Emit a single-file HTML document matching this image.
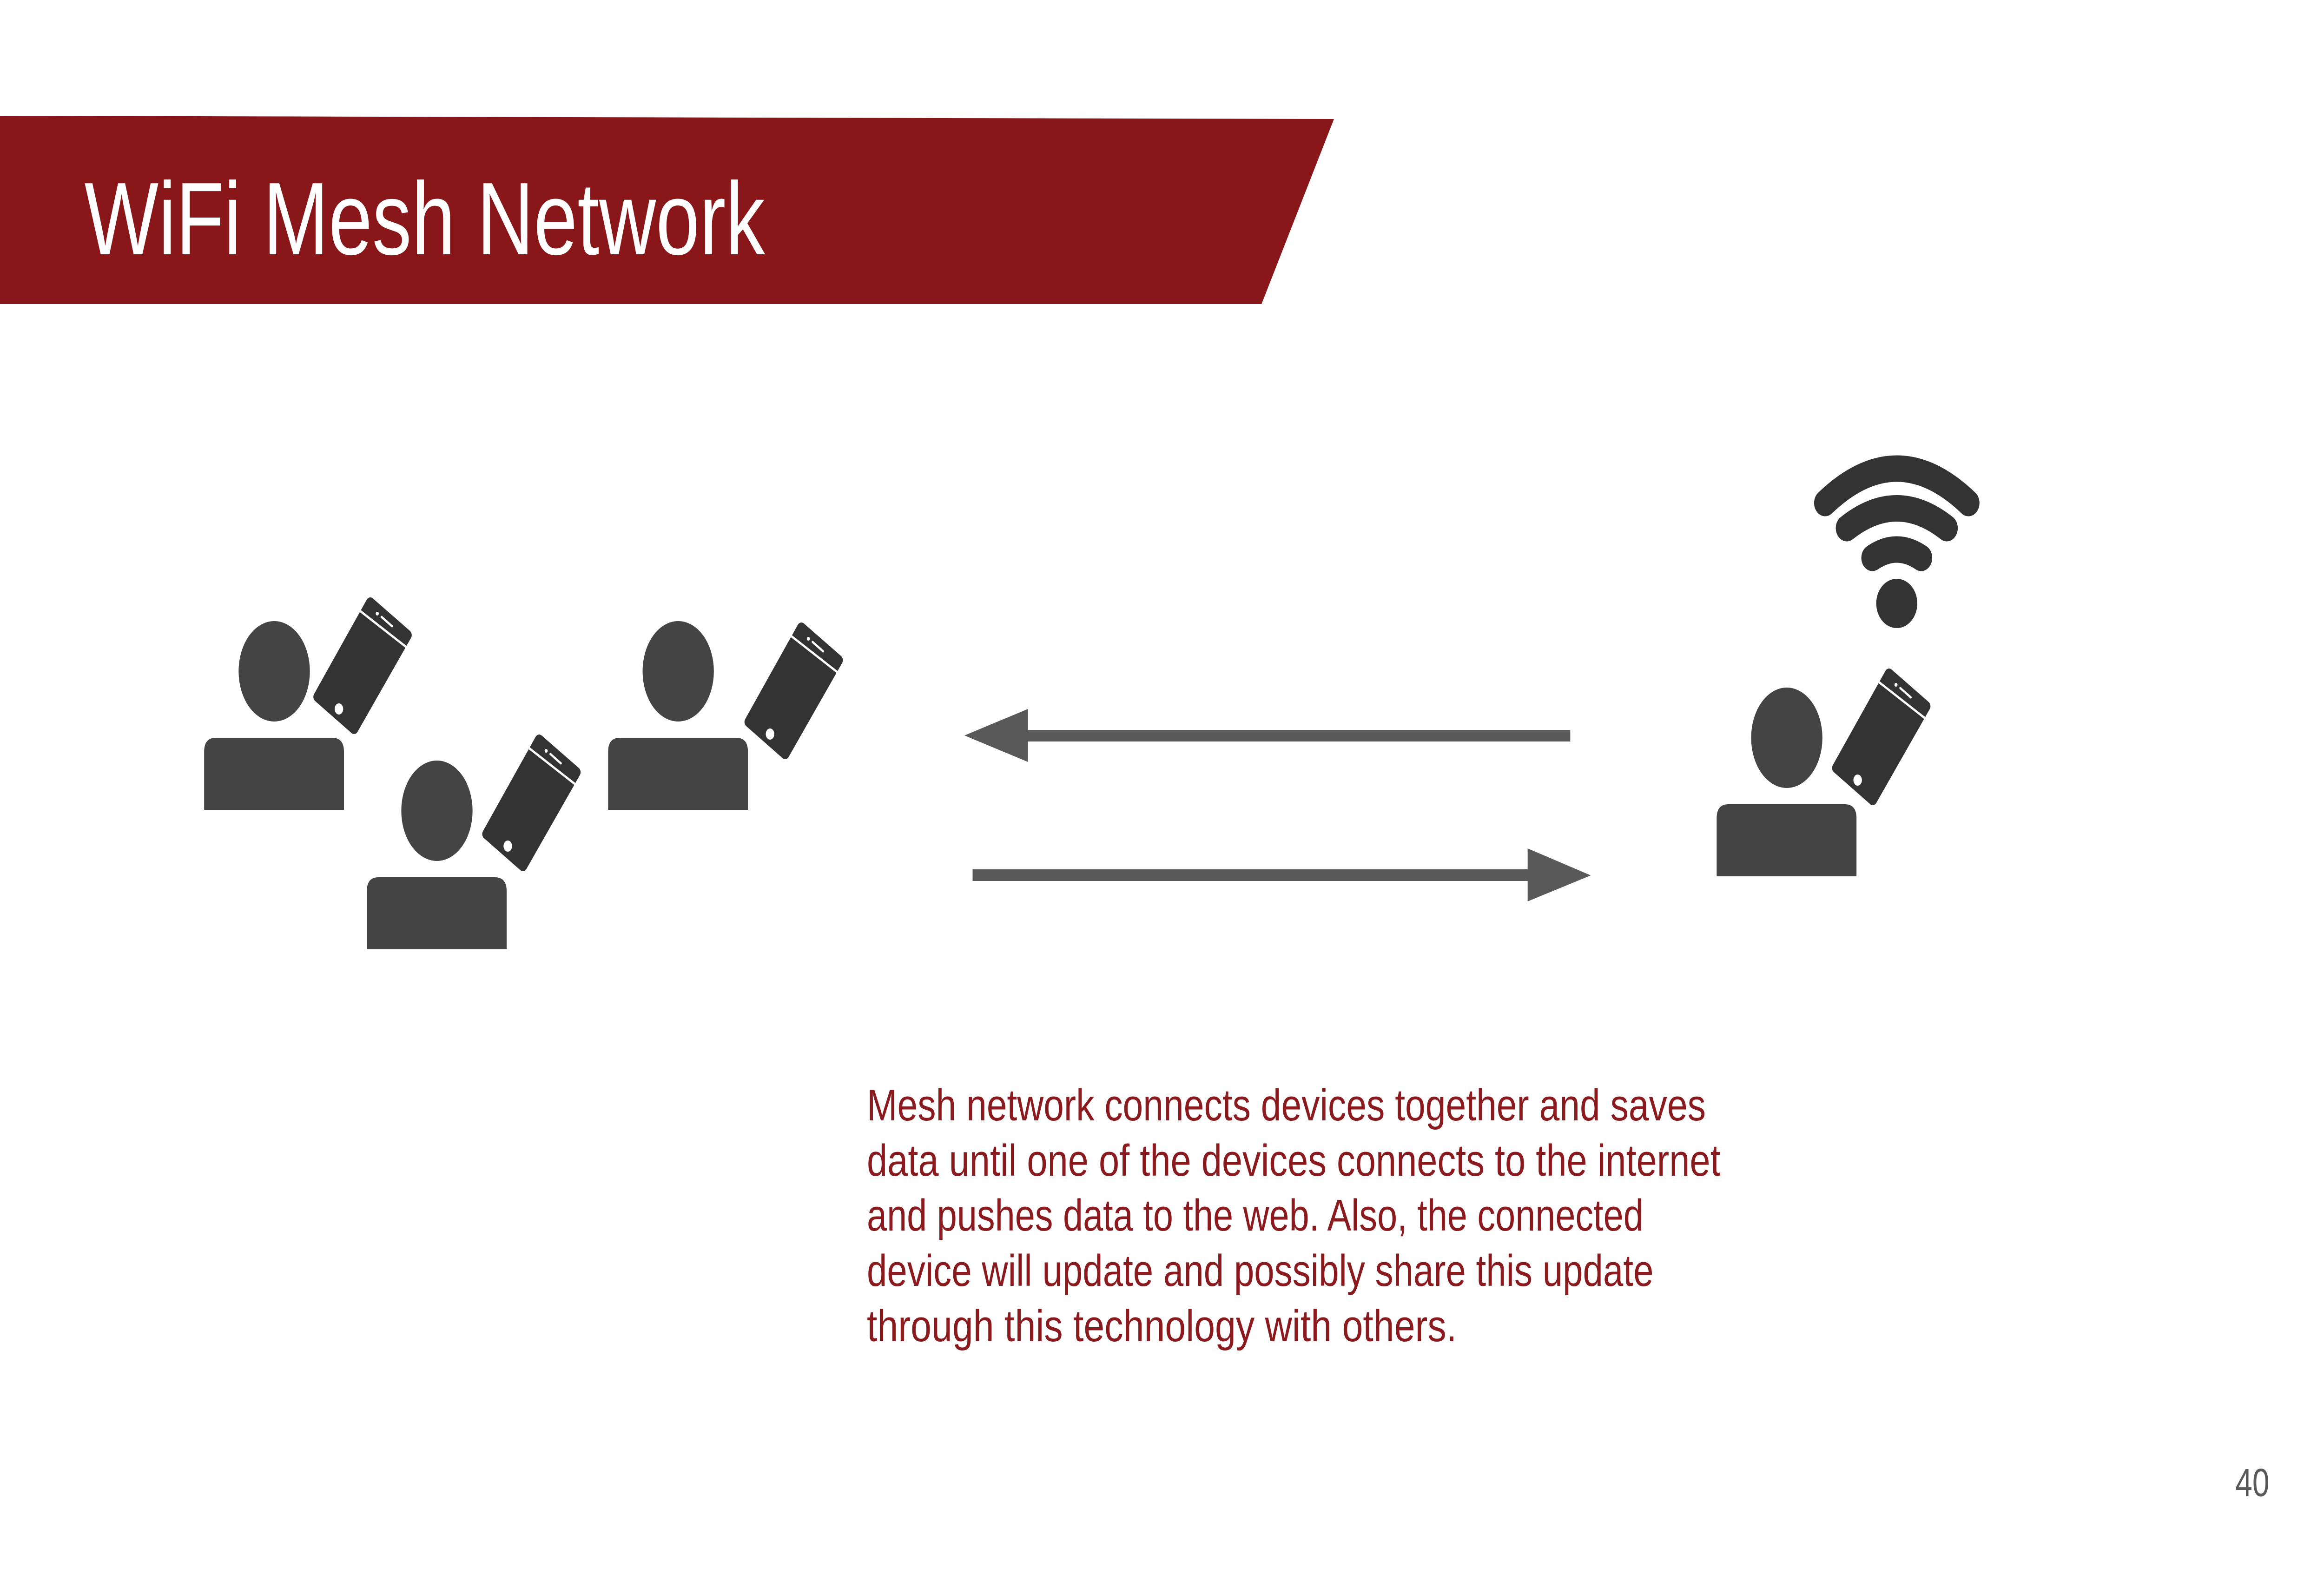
<!DOCTYPE html>
<html><head><meta charset="utf-8"><style>
html,body{margin:0;padding:0;background:#fff;width:100%;height:100%;overflow:hidden;}
svg{display:block;position:absolute;left:0;top:0;width:100vw;height:100vh;}
</style></head><body>
<svg viewBox="0 0 6000 3375" preserveAspectRatio="none" xmlns="http://www.w3.org/2000/svg">
<defs>
<g id="person">
  <ellipse cx="708" cy="1444" rx="92" ry="108" fill="#444444"/>
  <path d="M557 1587 H858 Q888 1587 888 1617 V1742 H527 V1617 Q527 1587 557 1587 Z" fill="#444444"/>
</g>
<g id="phone">
  <polygon points="956,1296 1052,1366 914,1568 820,1499" fill="#333333" stroke="#333333" stroke-width="22" stroke-linejoin="round"/>
  <line x1="928" y1="1313" x2="1049" y2="1392" stroke="#ffffff" stroke-width="5"/>
  <line x1="985" y1="1327" x2="1012" y2="1347" stroke="#ffffff" stroke-width="5" stroke-linecap="round"/>
  <circle cx="974" cy="1320" r="4" fill="#ffffff"/>
  <ellipse cx="875" cy="1525" rx="11" ry="12" fill="#ffffff"/>
</g>
</defs>

<polygon points="0,249 3444,256 3257,654 0,654" fill="#89171a"/>
<text x="218" y="547" font-family="Liberation Sans, sans-serif" font-size="222" fill="#ffffff" textLength="1757" lengthAdjust="spacingAndGlyphs">WiFi Mesh Network</text>

<use href="#person"/><use href="#phone"/>
<g transform="translate(420,300)"><use href="#person"/></g>
<g transform="translate(436,295)"><use href="#phone"/></g>
<g transform="translate(1043,0)"><use href="#person"/></g>
<g transform="translate(1113,54)"><use href="#phone"/></g>
<g transform="translate(3905,143)"><use href="#person"/></g>
<g transform="translate(3921,153)"><use href="#phone"/></g>

<g fill="none" stroke="#333333" stroke-width="57" stroke-linecap="round">
  <path d="M4712 1082 Q4897 934 5082 1082"/>
  <path d="M4768 1136 Q4897 1051 5026 1136"/>
  <path d="M4834 1200 Q4897 1164 4960 1200"/>
</g>
<circle cx="4897" cy="1298" r="53" fill="#333333"/>

<rect x="2640" y="1570" width="1414" height="25" fill="#595959"/>
<polygon points="2490,1582 2654,1525 2654,1639" fill="#595959"/>
<rect x="2511" y="1870" width="1450" height="25" fill="#595959"/>
<polygon points="4107,1883 3944,1825 3944,1939" fill="#595959"/>

<g font-family="Liberation Sans, sans-serif" font-size="96" fill="#8b1a1e">
  <text x="2238" y="2410" textLength="2166" lengthAdjust="spacingAndGlyphs">Mesh network connects devices together and saves</text>
  <text x="2238" y="2529" textLength="2204" lengthAdjust="spacingAndGlyphs">data until one of the devices connects to the internet</text>
  <text x="2238" y="2647" textLength="2005" lengthAdjust="spacingAndGlyphs">and pushes data to the web. Also, the connected</text>
  <text x="2238" y="2766" textLength="2031" lengthAdjust="spacingAndGlyphs">device will update and possibly share this update</text>
  <text x="2238" y="2885" textLength="1523" lengthAdjust="spacingAndGlyphs">through this technology with others.</text>
</g>

<text x="5771" y="3218" font-family="Liberation Sans, sans-serif" font-size="84" fill="#595959" textLength="88" lengthAdjust="spacingAndGlyphs">40</text>
</svg>
</body></html>
